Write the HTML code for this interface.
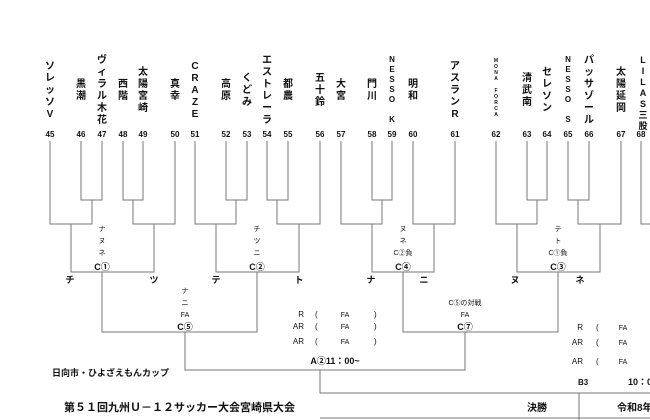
<!DOCTYPE html>
<html><head><meta charset="utf-8"><style>
html,body{margin:0;padding:0;background:#fff;width:650px;height:420px;overflow:hidden}
svg{display:block}
text{font-family:"Liberation Sans","Noto Sans CJK JP",sans-serif;fill:#111}
.n{font-size:10px;font-weight:bold;text-anchor:middle}
.num{font-size:8px;font-weight:bold;text-anchor:middle}
.s{font-size:7px;text-anchor:middle;fill:#444}
.c{font-size:9px;font-weight:bold;text-anchor:middle}
.k{font-size:9px;font-weight:bold;text-anchor:middle}
.r{font-size:8px;fill:#333}
</style></head><body>
<svg width="650" height="420" viewBox="0 0 650 420" xmlns="http://www.w3.org/2000/svg">
<g class="n">
<text x="50" y="69"><tspan x="50">ソ</tspan><tspan x="50" dy="12">レ</tspan><tspan x="50" dy="12">ッ</tspan><tspan x="50" dy="12">ソ</tspan><tspan x="50" dy="12">V</tspan></text>
<text x="81" y="87"><tspan x="81">黒</tspan><tspan x="81" dy="12">潮</tspan></text>
<text x="102" y="63"><tspan x="102">ヴ</tspan><tspan x="102" dy="12">ィ</tspan><tspan x="102" dy="12">ラ</tspan><tspan x="102" dy="12">ル</tspan><tspan x="102" dy="12">木</tspan><tspan x="102" dy="12">花</tspan></text>
<text x="123" y="87"><tspan x="123">西</tspan><tspan x="123" dy="12">階</tspan></text>
<text x="143" y="75"><tspan x="143">太</tspan><tspan x="143" dy="12">陽</tspan><tspan x="143" dy="12">宮</tspan><tspan x="143" dy="12">崎</tspan></text>
<text x="175" y="87"><tspan x="175">真</tspan><tspan x="175" dy="12">幸</tspan></text>
<text x="195" y="69"><tspan x="195">C</tspan><tspan x="195" dy="12">R</tspan><tspan x="195" dy="12">A</tspan><tspan x="195" dy="12">Z</tspan><tspan x="195" dy="12">E</tspan></text>
<text x="226" y="87"><tspan x="226">高</tspan><tspan x="226" dy="12">原</tspan></text>
<text x="247" y="81"><tspan x="247">く</tspan><tspan x="247" dy="12">ど</tspan><tspan x="247" dy="12">み</tspan></text>
<text x="267" y="63"><tspan x="267">エ</tspan><tspan x="267" dy="12">ス</tspan><tspan x="267" dy="12">ト</tspan><tspan x="267" dy="12">レ</tspan><tspan x="267" dy="12">ー</tspan><tspan x="267" dy="12">ラ</tspan></text>
<text x="288" y="87"><tspan x="288">都</tspan><tspan x="288" dy="12">農</tspan></text>
<text x="320" y="81"><tspan x="320">五</tspan><tspan x="320" dy="12">十</tspan><tspan x="320" dy="12">鈴</tspan></text>
<text x="341" y="87"><tspan x="341">大</tspan><tspan x="341" dy="12">宮</tspan></text>
<text x="372" y="87"><tspan x="372">門</tspan><tspan x="372" dy="12">川</tspan></text>
<text x="392" y="62" style="font-size:8px"><tspan x="392">N</tspan><tspan x="392" dy="10">E</tspan><tspan x="392" dy="10">S</tspan><tspan x="392" dy="10">S</tspan><tspan x="392" dy="10">O</tspan><tspan x="392" dy="20">K</tspan></text>
<text x="413" y="87"><tspan x="413">明</tspan><tspan x="413" dy="12">和</tspan></text>
<text x="455" y="69"><tspan x="455">ア</tspan><tspan x="455" dy="12">ス</tspan><tspan x="455" dy="12">ラ</tspan><tspan x="455" dy="12">ン</tspan><tspan x="455" dy="12">R</tspan></text>
<text x="496" y="62" style="font-size:5px"><tspan x="496">M</tspan><tspan x="496" dy="6">O</tspan><tspan x="496" dy="6">N</tspan><tspan x="496" dy="6">A</tspan><tspan x="496" dy="12">F</tspan><tspan x="496" dy="6">O</tspan><tspan x="496" dy="6">R</tspan><tspan x="496" dy="6">C</tspan><tspan x="496" dy="6">A</tspan></text>
<text x="527" y="81"><tspan x="527">清</tspan><tspan x="527" dy="12">武</tspan><tspan x="527" dy="12">南</tspan></text>
<text x="547" y="75"><tspan x="547">セ</tspan><tspan x="547" dy="12">レ</tspan><tspan x="547" dy="12">ソ</tspan><tspan x="547" dy="12">ン</tspan></text>
<text x="568" y="62" style="font-size:8px"><tspan x="568">N</tspan><tspan x="568" dy="10">E</tspan><tspan x="568" dy="10">S</tspan><tspan x="568" dy="10">S</tspan><tspan x="568" dy="10">O</tspan><tspan x="568" dy="20">S</tspan></text>
<text x="589" y="63"><tspan x="589">パ</tspan><tspan x="589" dy="12">ッ</tspan><tspan x="589" dy="12">サ</tspan><tspan x="589" dy="12">ゾ</tspan><tspan x="589" dy="12">ー</tspan><tspan x="589" dy="12">ル</tspan></text>
<text x="621" y="75"><tspan x="621">太</tspan><tspan x="621" dy="12">陽</tspan><tspan x="621" dy="12">延</tspan><tspan x="621" dy="12">岡</tspan></text>
<text x="643" y="63" style="font-size:9px"><tspan x="643">L</tspan><tspan x="643" dy="11">I</tspan><tspan x="643" dy="11">L</tspan><tspan x="643" dy="11">A</tspan><tspan x="643" dy="11">S</tspan><tspan x="643" dy="11">三</tspan><tspan x="643" dy="11">股</tspan></text>
</g>
<g class="num">
<text x="50" y="137">45</text><text x="81" y="137">46</text><text x="102" y="137">47</text><text x="123" y="137">48</text><text x="143" y="137">49</text><text x="175" y="137">50</text><text x="195" y="137">51</text><text x="226" y="137">52</text><text x="247" y="137">53</text><text x="267" y="137">54</text><text x="288" y="137">55</text><text x="320" y="137">56</text><text x="341" y="137">57</text><text x="372" y="137">58</text><text x="392" y="137">59</text><text x="413" y="137">60</text><text x="455" y="137">61</text><text x="496" y="137">62</text><text x="527" y="137">63</text><text x="547" y="137">64</text><text x="568" y="137">65</text><text x="589" y="137">66</text><text x="621" y="137">67</text><text x="641" y="137">68</text>
</g>
<g fill="none" stroke="#777" stroke-width="1">
<path d="M81,141V200H102V141M123,141V200H143V141M226,141V200H247V141M267,141V200H288V141M372,141V200H392V141M527,141V200H547V141M568,141V200H589V141"/>
<path d="M50,141V224H92V200M133,200V224H175V141M195,141V224H236V200M277,200V224H320V141M341,141V224H382V200M413,141V224H455V141M496,141V224H537V200M578,200V224H621V141M641,141V224H650"/>
<path d="M71,224V272H154V224M216,224V272H299V224M372,224V272H434V224M517,224V272H600V224"/>
<path d="M102,272V332H257V272M403,272V332H558V272"/>
<path d="M185,332V370H465V332M320,370V393H650M579,393V420M320,418H650"/>
</g>
<g class="s">
<text x="102" y="231">ナ</text><text x="102" y="243">ヌ</text><text x="102" y="255">ネ</text>
<text x="257" y="231">チ</text><text x="257" y="243">ツ</text><text x="257" y="255">ニ</text>
<text x="403" y="231">ヌ</text><text x="403" y="243">ネ</text><text x="403" y="255">C②負</text>
<text x="558" y="231">テ</text><text x="558" y="243">ト</text><text x="558" y="255">C①負</text>
<text x="185" y="293">ナ</text><text x="185" y="305">ニ</text><text x="185" y="317">FA</text>
<text x="465" y="305">C⑤の対戦</text><text x="465" y="317">FA</text>
</g>
<g class="c">
<text x="102" y="270">C①</text><text x="257" y="270">C②</text><text x="403" y="270">C④</text><text x="558" y="270">C③</text>
<text x="185" y="330">C⑤</text><text x="465" y="330">C⑦</text>
</g>
<g class="k">
<text x="70" y="283">チ</text><text x="154" y="283">ツ</text><text x="216" y="283">テ</text><text x="299" y="283">ト</text>
<text x="371" y="283">ナ</text><text x="424" y="283">ニ</text><text x="515" y="283">ヌ</text><text x="580" y="283">ネ</text>
</g>
<g class="r">
<text x="304" y="317" text-anchor="end">R</text><text x="304" y="329" text-anchor="end">AR</text><text x="304" y="344" text-anchor="end">AR</text>
<text x="315" y="317">(</text><text x="315" y="329">(</text><text x="315" y="344">(</text>
<text x="345" y="317" style="font-size:7px" text-anchor="middle">FA</text><text x="345" y="329" style="font-size:7px" text-anchor="middle">FA</text><text x="345" y="344" style="font-size:7px" text-anchor="middle">FA</text>
<text x="374" y="317">)</text><text x="374" y="329">)</text><text x="374" y="344">)</text>
<text x="583" y="330" text-anchor="end">R</text><text x="583" y="345" text-anchor="end">AR</text><text x="583" y="364" text-anchor="end">AR</text>
<text x="596" y="330">(</text><text x="596" y="345">(</text><text x="596" y="364">(</text>
<text x="623" y="330" style="font-size:7px" text-anchor="middle">FA</text><text x="623" y="345" style="font-size:7px" text-anchor="middle">FA</text><text x="623" y="364" style="font-size:7px" text-anchor="middle">FA</text>
</g>
<text x="335" y="364" style="font-size:9px;font-weight:bold" text-anchor="middle">A②11：00~</text>
<text x="578" y="385" style="font-size:8px;font-weight:bold">B3</text>
<text x="628" y="385" style="font-size:9px;font-weight:bold">10：00</text>
<text x="52" y="376" style="font-size:9px;font-weight:bold">日向市・ひよざえもんカップ</text>
<text x="64" y="411" style="font-size:11px;font-weight:bold">第５１回九州Ｕ－１２サッカー大会宮崎県大会</text>
<text x="537" y="411" style="font-size:10px;font-weight:bold" text-anchor="middle">決勝</text>
<text x="617" y="411" style="font-size:10px;font-weight:bold">令和8年</text>
</svg>
</body></html>
